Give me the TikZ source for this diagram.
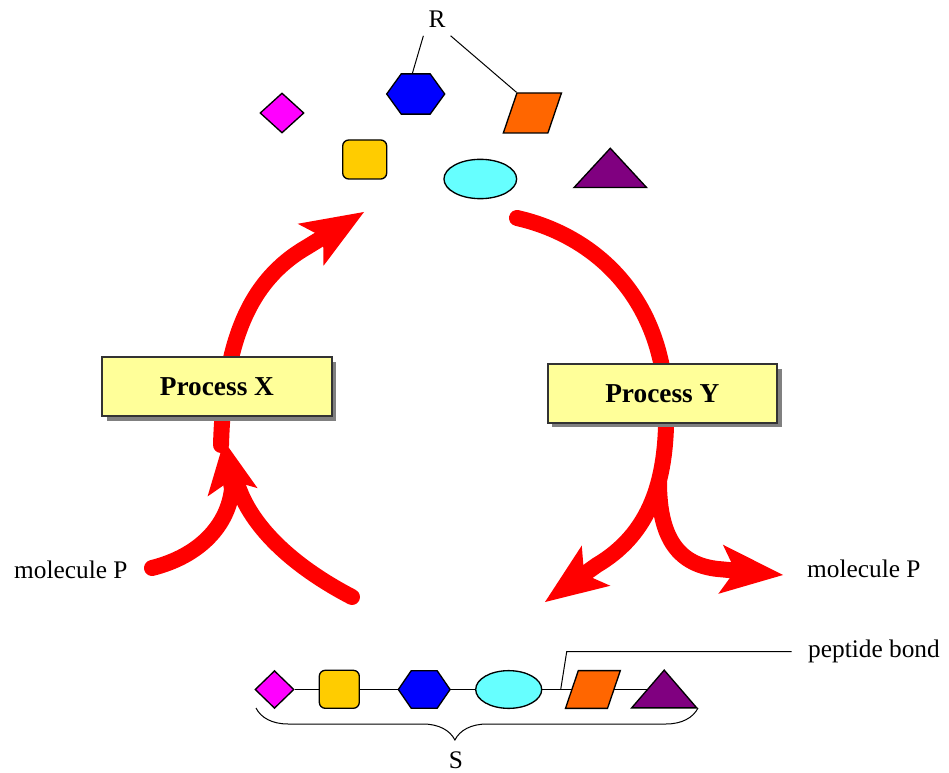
\documentclass[tikz,border=0pt]{standalone}
\usepackage{fontspec}
\setmainfont{Liberation Serif}
\usetikzlibrary{arrows.meta,shapes.geometric,shadows,decorations.pathreplacing,backgrounds}

\definecolor{molpink}{RGB}{255,0,255}
\definecolor{molgold}{RGB}{255,204,0}
\definecolor{molblue}{RGB}{0,0,255}
\definecolor{molcyan}{RGB}{102,255,255}
\definecolor{molorange}{RGB}{255,102,0}
\definecolor{molpurple}{RGB}{128,0,128}
\definecolor{boxfill}{RGB}{255,255,153}
\definecolor{boxedge}{RGB}{51,51,51}
\definecolor{arrowred}{RGB}{255,0,0}

\tikzset{every picture/.style={line width=0.75pt}}
\tikzset{
  txt/.style={font=\fontsize{19}{22}\selectfont},
  mol/.style={draw, line width=1pt, inner sep=0pt},
  diabox/.style 2 args={mol, diamond, fill=molpink, minimum width=#1, minimum height=#2},
  sqbox/.style 2 args={mol, rectangle, rounded corners=4.5pt, fill=molgold, minimum width=#1, minimum height=#2},
  hexbox/.style 2 args={mol, regular polygon, regular polygon sides=6, fill=molblue, minimum size=#1, yscale=#2},
  ovalbox/.style 2 args={mol, ellipse, fill=molcyan, minimum width=#1, minimum height=#2},
  parabox/.style 2 args={mol, rectangle, fill=molorange, minimum width=#1, minimum height=#2, xslant=0.34},
  tribox/.style 2 args={mol, regular polygon, regular polygon sides=3, fill=molpurple, minimum size=#1, yscale=#2},
  procbox/.style={draw=boxedge, line width=1.5pt, fill=boxfill, minimum width=172pt, minimum height=44pt, inner sep=0pt, font=\bfseries\fontsize{20.5}{24}\selectfont, drop shadow={shadow xshift=3.5pt, shadow yshift=-3.5pt, fill=black!50, opacity=1}},
  flow/.style={draw=arrowred, line width=12pt, line cap=round},
  headbig/.style={-{Stealth[length=47pt, width=37pt, inset=11pt, line width=0pt]}},
  headsmall/.style={-{Stealth[length=39pt, width=38pt, inset=9pt, line width=0pt]}}
}

\begin{document}
\begin{tikzpicture}[x=0.75pt,y=0.75pt,yscale=-1,xscale=1]
\useasboundingbox (0,0) rectangle (949,773);

% free molecules R
\node[txt, anchor=base, inner xsep=3.5pt, inner ysep=6pt] (R) at (437,27.3) {R};
\node[diabox={33pt}{30pt}] (diaR) at (282,113) {};
\node[hexbox={43.5pt}{0.8}] (hexR) at (415.7,94) {};
\node[parabox={33.4pt}{30pt}] (parR) at (532.4,113) {};
\node[sqbox={33pt}{29.25pt}] (sqR) at (364.7,159.5) {};
\node[ovalbox={54.5pt}{29.5pt}] (ovR) at (480.3,179) {};
\node[tribox={62.9pt}{0.625}, anchor=south] (triR) at (610.3,188) {};
\draw (R.south west) -- ([xshift=-2.5pt]hexR.north);
\draw (R.south east) -- (parR.north west);

% cycle arrows
\coordinate (pin) at (152,568);
\coordinate (pout) at (783,575);
\coordinate (xend) at (364,212);
\coordinate (ystart) at (517,218);
\coordinate (sfrom) at (352,597);
\coordinate (sto) at (545,602);
\draw[flow, headsmall] (pin) .. controls (200,556) and (228,525) .. (232,489) -- (224,441);
\draw[flow] (sfrom) .. controls (300,570) and (250,530) .. (236,480);
\draw[flow, headbig] (221,445) .. controls (224,340) and (250,280) .. (307,247) -- (xend);
\draw[flow, headbig] (ystart) .. controls (588,234) and (660,290) .. (666,400) .. controls (668,470) and (656,530) .. (597,565) -- (sto);
\draw[flow, headbig] (659,482) .. controls (659,540) and (680,565) .. (718,569) -- (pout);

\node[procbox] (px) at (216.9,386.7) {Process X};
\node[procbox] (py) at (662.3,393.3) {Process Y};
\node[txt, anchor=base east, inner sep=0pt] (mpL) at (128,578.3) {molecule P};
\node[txt, anchor=base west, inner sep=0pt] (mpR) at (806.7,577.3) {molecule P};

% chain S
\node[diabox={29.25pt}{28.3pt}] (diaS) at (274.5,689.5) {};
\node[sqbox={30pt}{28.5pt}] (sqS) at (339.3,689.3) {};
\node[hexbox={38.8pt}{0.84}] (hexS) at (424.2,689.5) {};
\node[ovalbox={49.5pt}{28.3pt}] (ovS) at (508.7,689.5) {};
\node[parabox={31.5pt}{28.3pt}] (parS) at (592.9,689.5) {};
\node[tribox={56.3pt}{0.67}, anchor=south] (triS) at (664.2,708.3) {};
\begin{scope}[on background layer]
\draw (diaS) -- (triS.north |- diaS);
\end{scope}

\coordinate (bondpt) at (560.7,689.5);
\coordinate (bondkink) at (566.7,651.7);
\node[txt, anchor=west, inner xsep=12pt] (bond) at (791.7,651.7) {peptide bond};
\draw (bondpt) -- (bondkink) -- (bond.west);

\coordinate (braceL) at (256,708);
\coordinate (braceR) at (698,708);
\draw[decorate, decoration={brace, mirror, amplitude=24pt, aspect=0.45}] (braceL) -- (braceR);
\node[txt, anchor=base] (S) at (456,768.5) {S};

\end{tikzpicture}
\end{document}
